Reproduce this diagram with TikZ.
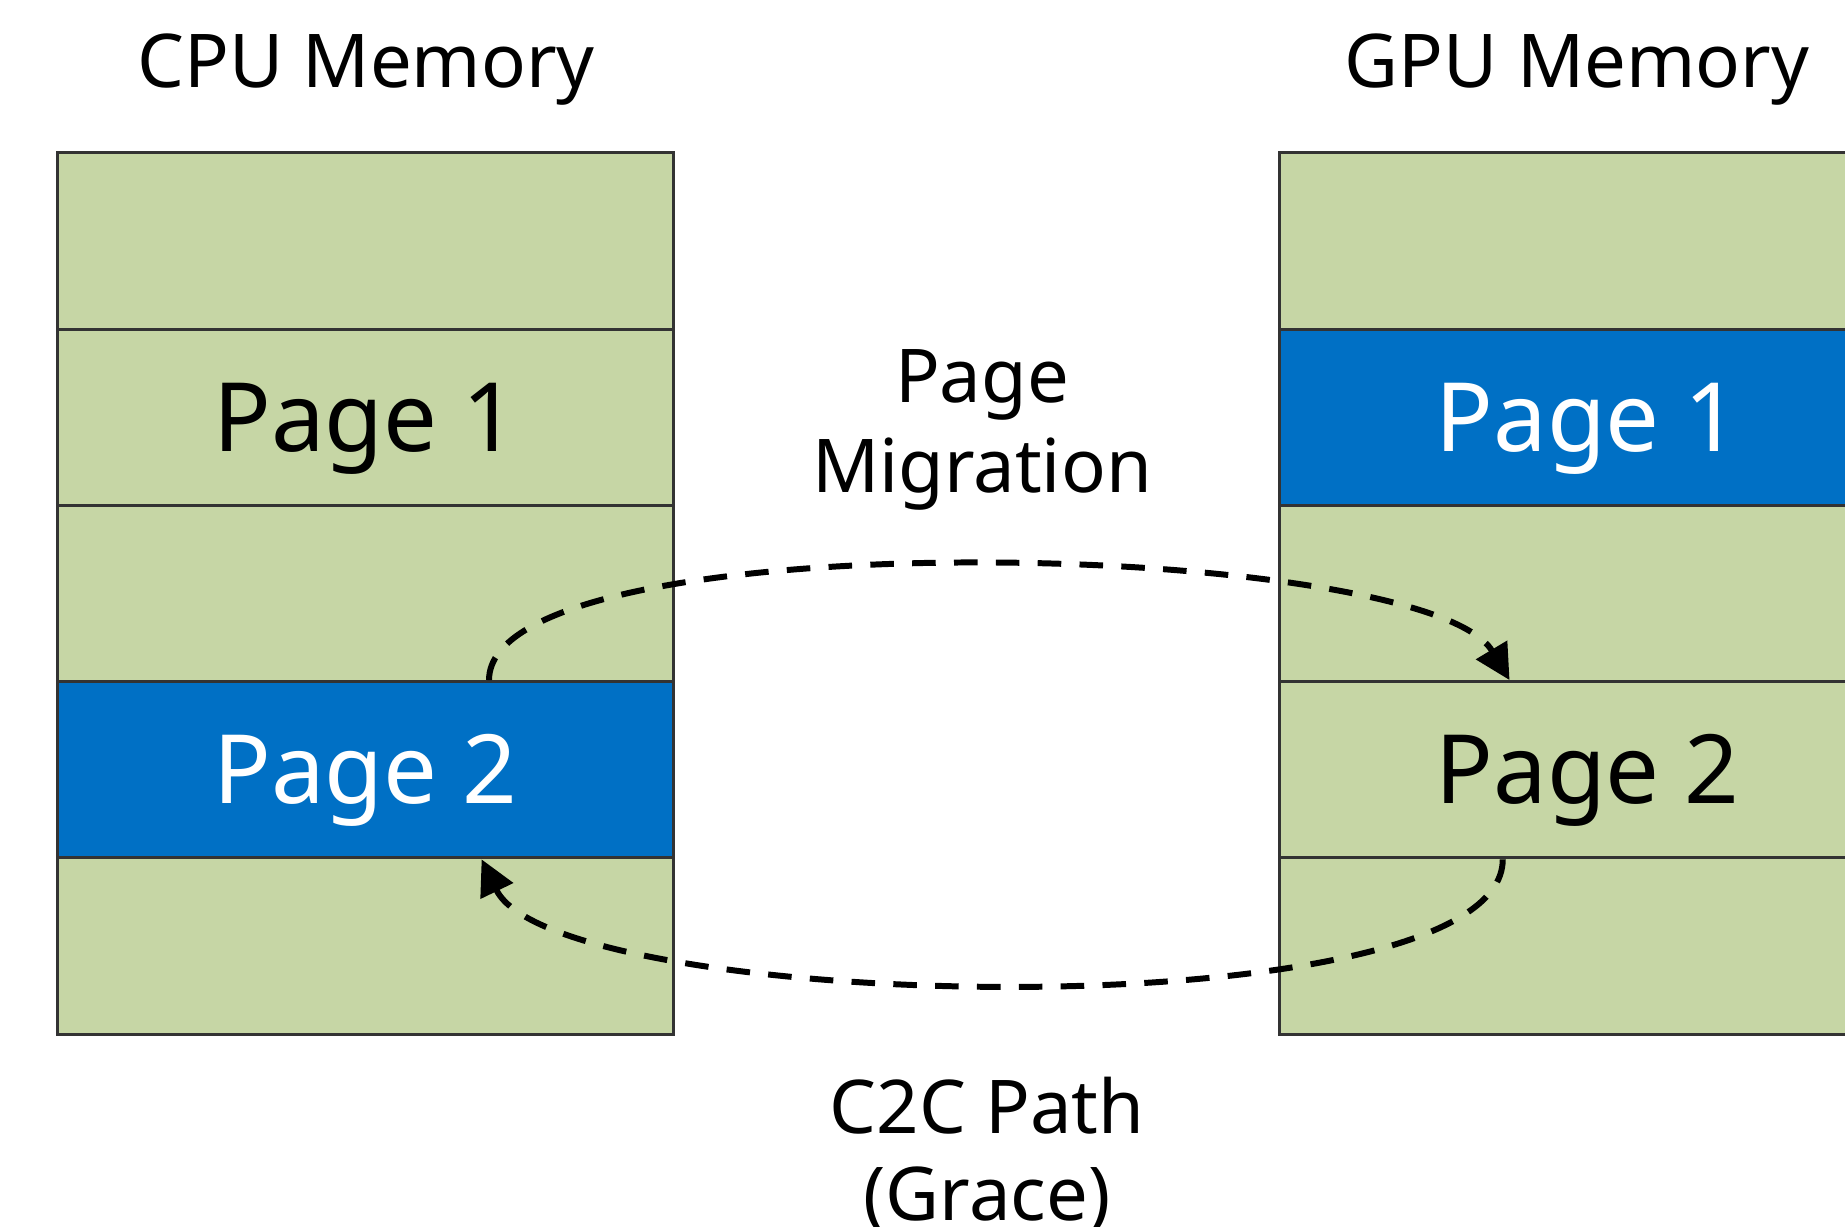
\documentclass[tikz,border=0pt]{standalone}
\usepackage{fontspec}
\setmainfont{Noto Sans}
\usetikzlibrary{arrows.meta,calc}

\definecolor{memgreen}{HTML}{C6D6A5}
\definecolor{pageblue}{HTML}{0070C5}
\definecolor{frame}{HTML}{333333}

\tikzset{
  row/.style={draw=frame, line width=0.85pt, fill=memgreen, inner sep=0pt,
              minimum width=6.153cm, minimum height=1.762cm,
              text height=19.4pt, text depth=0pt,
              font=\fontsize{27.2}{32}\selectfont},
  hot/.style={row, fill=pageblue, text=white},
  title/.style={font=\fontsize{21.1}{25.6}\selectfont, inner sep=0pt,
                text height=15.1pt, text depth=0pt},
  label/.style={font=\fontsize{21.1}{25.6}\selectfont, align=center, inner sep=0pt},
  flow/.style={line width=1.7pt, dash pattern=on 6.7pt off 5.2pt,
               -{Triangle[length=10pt,width=10pt]}}
}

\begin{document}
\begin{tikzpicture}[x=0.01cm, y={(0cm,-0.01cm)}]
  \useasboundingbox (0,0) rectangle (1845,1226);
  \clip (0,0) rectangle (1845,1226);
  \fill[white] (0,0) rectangle (1845,1226);

  % column headings
  \node[title] (cputitle) at (366,61) {CPU Memory};
  \node[title] (gputitle) at (1577,61) {GPU Memory};

  % CPU memory pages
  \node[row] (cpu1) at (365.3,241.1) {};
  \node[row] (cpu2) at (365.3,417.3) {Page 1};
  \node[row] (cpu3) at (365.3,593.5) {};
  \node[hot] (cpu4) at (365.3,769.7) {Page 2};
  \node[row] (cpu5) at (365.3,945.9) {};

  % GPU memory pages
  \node[row] (gpu1) at (1587.5,241.1) {};
  \node[hot] (gpu2) at (1587.5,417.3) {Page 1};
  \node[row] (gpu3) at (1587.5,593.5) {};
  \node[row] (gpu4) at (1587.5,769.7) {Page 2};
  \node[row] (gpu5) at (1587.5,945.9) {};

  % arrow labels
  \node[label] (migr) at (982,430) {Page\\[0.1pt]Migration};
  \node[label] (c2c) at (987,1155) {C2C Path\\[-0.8pt](Grace)};

  % end points of the transfers
  \coordinate (migsrc) at ($(cpu4.north west)!0.70!(cpu4.north east)$);
  \coordinate (migdst) at ($(gpu4.north west)!0.374!(gpu4.north east)$);
  \coordinate (c2csrc) at ($(gpu4.south west)!0.363!(gpu4.south east)$);
  \coordinate (c2cdst) at ($(cpu4.south west)!0.688!(cpu4.south east)$);

  \draw[flow] (migsrc) .. controls ($(migsrc)+(0,-162)$) and ($(migdst)+(-85,-142)$) .. (migdst);
  \draw[flow] (c2csrc) .. controls ($(c2csrc)+(0,175)$) and ($(c2cdst)+(75,155)$) .. (c2cdst);
\end{tikzpicture}
\end{document}
